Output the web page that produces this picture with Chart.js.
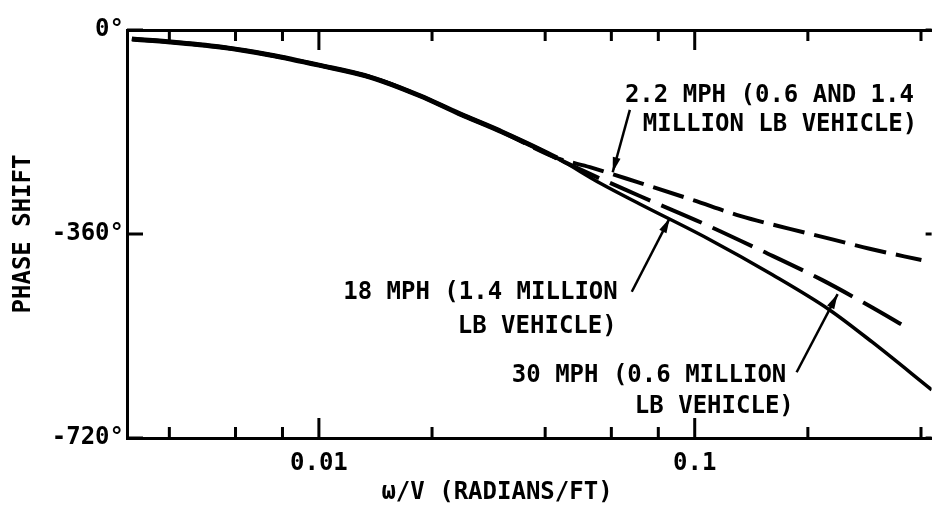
<!DOCTYPE html>
<html>
<head>
<meta charset="utf-8">
<script src="https://cdn.jsdelivr.net/npm/chart.js@4"></script>
<style>
  body { margin: 0; background: #fff; }
  #wrap { width: 932px; height: 507px; }
</style>
</head>
<body>
<div id="wrap"><canvas id="phaseChart" width="932" height="507"></canvas></div>
<script>
// omega/V (radians/ft) and phase shift (deg) where the three curves coincide
const commonX = [0.00318, 0.00402, 0.00546, 0.00741, 0.0100, 0.01367, 0.01857, 0.0237, 0.0303, 0.0430];
const commonY = [-16, -21, -30, -44, -62, -83, -116, -148, -178, -226];

// 30 MPH (0.6 million lb vehicle), solid
const x30 = [0.0559, 0.0714, 0.1076, 0.161, 0.2285, 0.297, 0.427];
const y30 = [-270, -307, -367, -432, -494, -551, -635];

// 18 MPH (1.4 million lb vehicle), long dash
const x18 = [0.0457, 0.0714, 0.105, 0.149, 0.218, 0.288, 0.373];
const y18 = [-235, -293, -341, -388, -441, -485, -528];

// 2.2 MPH (0.6 and 1.4 million lb vehicle), short dash
const x22 = [0.0526, 0.0701, 0.0988, 0.132, 0.179, 0.231, 0.292, 0.401];
const y22 = [-242, -268, -300, -328, -351, -369, -386, -406];

const xTicks = [0.004, 0.006, 0.008, 0.01, 0.02, 0.04, 0.06, 0.08, 0.1, 0.2, 0.4];
const xLabeled = [0.01, 0.1];
const yTicks = [0, -360, -720];

const FONT = '"DejaVu Sans Mono", monospace';

const toPoints = (xs, ys) => xs.map((v, i) => ({ x: v, y: ys[i] }));

// callout texts and arrows, placed in data units
const noteText = [
  { text: '2.2 MPH (0.6 AND 1.4', x: 0.0652, y: -127, align: 'left' },
  { text: 'MILLION LB VEHICLE)', x: 0.0727, y: -178, align: 'left' },
  { text: '18 MPH (1.4 MILLION', x: 0.0624, y: -475, align: 'right' },
  { text: 'LB VEHICLE)', x: 0.0620, y: -535, align: 'right' },
  { text: '30 MPH (0.6 MILLION', x: 0.0326, y: -621, align: 'left' },
  { text: 'LB VEHICLE)', x: 0.0693, y: -676, align: 'left' }
];
const noteArrows = [
  { from: [0.0672, -141], to: [0.0605, -251] },
  { from: [0.0680, -462], to: [0.0858, -332] },
  { from: [0.1867, -604], to: [0.240, -466] }
];

const inwardTicks = {
  id: 'inwardTicks',
  afterDraw(chart) {
    const { ctx, chartArea: a, scales: { x, y } } = chart;
    ctx.save();
    ctx.strokeStyle = '#000';
    ctx.lineWidth = 3;
    ctx.beginPath();
    xTicks.forEach(v => {
      const px = x.getPixelForValue(v);
      const len = xLabeled.includes(v) ? 20 : 11;
      ctx.moveTo(px, a.bottom); ctx.lineTo(px, a.bottom - len);
      ctx.moveTo(px, a.top); ctx.lineTo(px, a.top + len);
    });
    yTicks.forEach(v => {
      const py = y.getPixelForValue(v);
      ctx.moveTo(a.left, py); ctx.lineTo(a.left + 16, py);
      ctx.moveTo(a.right, py); ctx.lineTo(a.right - 6, py);
    });
    ctx.stroke();
    ctx.restore();
  }
};

const callouts = {
  id: 'callouts',
  afterDraw(chart) {
    const { ctx, chartArea: a, scales: { x, y } } = chart;
    ctx.save();
    ctx.fillStyle = '#000';
    ctx.strokeStyle = '#000';
    ctx.font = 'bold 24px ' + FONT;
    ctx.textBaseline = 'alphabetic';
    noteText.forEach(n => {
      ctx.textAlign = n.align;
      ctx.fillText(n.text, x.getPixelForValue(n.x), y.getPixelForValue(n.y));
    });
    ctx.lineWidth = 2.5;
    noteArrows.forEach(ar => {
      const x0 = x.getPixelForValue(ar.from[0]), y0 = y.getPixelForValue(ar.from[1]);
      const x1 = x.getPixelForValue(ar.to[0]), y1 = y.getPixelForValue(ar.to[1]);
      const ang = Math.atan2(y1 - y0, x1 - x0);
      ctx.beginPath();
      ctx.moveTo(x0, y0); ctx.lineTo(x1, y1);
      ctx.stroke();
      ctx.beginPath();
      ctx.moveTo(x1, y1);
      ctx.lineTo(x1 - 15 * Math.cos(ang) + 4 * Math.sin(ang), y1 - 15 * Math.sin(ang) - 4 * Math.cos(ang));
      ctx.lineTo(x1 - 15 * Math.cos(ang) - 4 * Math.sin(ang), y1 - 15 * Math.sin(ang) + 4 * Math.cos(ang));
      ctx.closePath();
      ctx.fill();
    });
    // x axis title sits left of the plot centre in the original
    ctx.textAlign = 'center';
    ctx.textBaseline = 'middle';
    ctx.fillText('ω/V (RADIANS/FT)', a.left + 370, 493);
    ctx.restore();
  }
};

const axisGrid = { drawOnChartArea: false, drawTicks: false };
const axisBorder = { display: true, color: '#000', width: 3 };

new Chart(document.getElementById('phaseChart'), {
  type: 'line',
  data: {
    datasets: [
      {
        label: '30 MPH (0.6 MILLION LB VEHICLE)',
        data: toPoints(commonX.concat(x30), commonY.concat(y30)),
        borderColor: '#000',
        borderWidth: 3.5,
        segment: { borderWidth: c => (c.p1.parsed.x <= 0.0431 ? 5 : 3.5) },
        cubicInterpolationMode: 'monotone',
        pointRadius: 0
      },
      {
        label: '18 MPH (1.4 MILLION LB VEHICLE)',
        data: toPoints(commonX.concat(x18), commonY.concat(y18)),
        borderColor: '#000',
        borderWidth: 4,
        borderDash: [44, 12],
        cubicInterpolationMode: 'monotone',
        pointRadius: 0
      },
      {
        label: '2.2 MPH (0.6 AND 1.4 MILLION LB VEHICLE)',
        data: toPoints(commonX.concat(x22), commonY.concat(y22)),
        borderColor: '#000',
        borderWidth: 4,
        borderDash: [32, 10],
        cubicInterpolationMode: 'monotone',
        pointRadius: 0
      }
    ]
  },
  options: {
    responsive: false,
    animation: false,
    devicePixelRatio: 1,
    layout: { padding: 0 },
    plugins: { legend: { display: false }, tooltip: { enabled: false } },
    scales: {
      x: {
        type: 'logarithmic',
        position: 'bottom',
        min: 0.003086,
        max: 0.4269,
        afterFit: s => { s.height = 69; },
        afterBuildTicks: s => { s.ticks = xTicks.map(v => ({ value: v })); },
        grid: axisGrid,
        border: axisBorder,
        ticks: {
          autoSkip: false,
          maxRotation: 0,
          color: '#000',
          padding: 11,
          font: { family: FONT, size: 24, weight: 'bold' },
          callback: v => (xLabeled.some(t => Math.abs(t - v) < 1e-9) ? String(v) : '')
        }
      },
      xTop: {
        type: 'logarithmic',
        position: 'top',
        min: 0.003086,
        max: 0.4269,
        afterFit: s => { s.height = 30; },
        grid: axisGrid,
        border: axisBorder,
        ticks: { display: false }
      },
      y: {
        type: 'linear',
        position: 'left',
        min: -720,
        max: 0,
        afterFit: s => { s.width = 127; },
        afterBuildTicks: s => { s.ticks = yTicks.map(v => ({ value: v })); },
        grid: axisGrid,
        border: axisBorder,
        ticks: {
          color: '#000',
          padding: 3,
          font: { family: FONT, size: 24, weight: 'bold' },
          callback: v => v + '°'
        },
        title: {
          display: true,
          text: 'PHASE SHIFT',
          color: '#000',
          padding: { top: 9, bottom: 0 },
          font: { family: FONT, size: 24, weight: 'bold' }
        }
      }
    }
  },
  plugins: [inwardTicks, callouts]
});
</script>
</body>
</html>
